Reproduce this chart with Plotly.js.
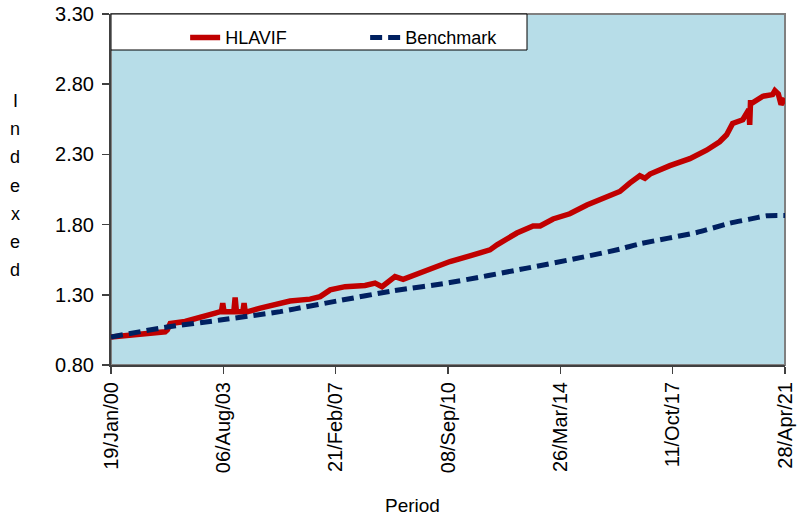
<!DOCTYPE html>
<html>
<head>
<meta charset="utf-8">
<script src="https://cdn.plot.ly/plotly-3.0.1.min.js"></script>
<style>html,body{margin:0;padding:0;background:#fff;}#chart{width:805px;height:518px;}</style>
</head>
<body>
<div id="chart"></div>
<script>
// HLAVIF series (indexed)
const fundDates = ['2000-01-19','2000-12-20','2001-10-05','2001-10-30','2001-12-01','2002-05-22','2002-11-14','2003-05-05','2003-07-01','2003-07-15','2003-07-30','2003-08-14','2003-11-05','2003-12-05','2003-12-20','2004-01-04','2004-03-01','2004-03-18','2004-04-01','2004-04-15','2004-10-05','2005-05-22','2005-09-13','2006-05-01','2006-08-26','2006-12-20','2007-06-10','2008-01-26','2008-05-20','2008-08-08','2009-01-05','2009-04-09','2009-10-20','2010-02-14','2010-10-01','2011-05-18','2012-01-05','2012-03-26','2012-11-10','2013-05-16','2013-08-05','2014-01-01','2014-07-13','2015-01-26','2015-07-27','2016-02-10','2016-06-03','2016-09-27','2016-11-25','2017-01-23','2017-09-09','2018-04-27','2018-11-06','2019-04-05','2019-06-25','2019-09-02','2019-12-28','2020-02-24','2020-03-08','2020-03-17','2020-03-26','2020-04-19','2020-08-15','2020-12-06','2021-01-01','2021-02-10','2021-03-14','2021-04-28'];
const fundValues = [1.00,1.02,1.037,1.05,1.095,1.11,1.145,1.17,1.18,1.18,1.24,1.18,1.18,1.18,1.28,1.18,1.18,1.18,1.24,1.175,1.205,1.24,1.256,1.269,1.287,1.335,1.358,1.366,1.383,1.358,1.43,1.41,1.456,1.485,1.537,1.577,1.62,1.656,1.74,1.79,1.79,1.84,1.877,1.94,1.99,2.036,2.096,2.148,2.13,2.16,2.22,2.27,2.33,2.39,2.44,2.52,2.547,2.607,2.62,2.51,2.667,2.667,2.714,2.726,2.754,2.73,2.655,2.70];

// Benchmark series (indexed)
const benchDates = ['2000-01-19','2001-10-27','2003-07-01','2005-05-22','2005-11-10','2007-03-10','2008-12-14','2010-10-01','2013-03-07','2014-12-10','2016-02-10','2016-09-27','2018-07-16','2019-07-31','2020-03-17','2020-10-01','2021-04-28'];
const benchValues = [1.00,1.07,1.12,1.18,1.20,1.256,1.328,1.387,1.49,1.568,1.625,1.663,1.744,1.81,1.839,1.863,1.865];

// Axis ticks
const xTickVals = ['2000-01-19','2003-08-06','2007-02-21','2010-09-08','2014-03-26','2017-10-11','2021-04-28'];
const xTickText = ['19/Jan/00','06/Aug/03','21/Feb/07','08/Sep/10','26/Mar/14','11/Oct/17','28/Apr/21'];
const yTickVals = [0.8,1.3,1.8,2.3,2.8,3.3];

const seriesNames = ['HLAVIF','Benchmark'];
const yTitleLetters = ['I','n','d','e','x','e','d'];

const FONT = '"Liberation Sans", Arial, sans-serif';

const traces = [
  {x: fundDates, y: fundValues, type: 'scatter', mode: 'lines', name: seriesNames[0],
   line: {color: '#C00000', width: 5.5}},
  {x: benchDates, y: benchValues, type: 'scatter', mode: 'lines', name: seriesNames[1],
   line: {color: '#002060', width: 5, dash: '12px,6px', shape: 'spline', smoothing: 0.6}}
];

const annotations = yTitleLetters.map((ch, i) => ({
  text: ch, xref: 'paper', yref: 'paper', x: -0.142, y: (365 - (101 + i * 28.2)) / 351,
  xanchor: 'center', yanchor: 'middle', showarrow: false,
  font: {family: FONT, size: 18, color: '#000'}
}));
annotations.push({
  text: 'Period', xref: 'paper', yref: 'paper', x: (412 - 111) / 674, y: (365 - 505) / 351,
  xanchor: 'center', yanchor: 'middle', showarrow: false,
  font: {family: FONT, size: 19, color: '#000'}
});

const layout = {
  width: 805, height: 518,
  margin: {l: 111, r: 20, t: 14, b: 153},
  paper_bgcolor: '#FFFFFF',
  plot_bgcolor: '#B7DDE8',
  font: {family: FONT, size: 19, color: '#000'},
  showlegend: true,
  legend: {
    orientation: 'h', x: 0.11, y: 0.985, xanchor: 'left', yanchor: 'top',
    bgcolor: 'rgba(0,0,0,0)', borderwidth: 0,
    font: {family: FONT, size: 18, color: '#000'},
    entrywidth: 135, entrywidthmode: 'pixels', traceorder: 'normal'
  },
  xaxis: {
    type: 'date', range: ['2000-01-19', '2021-04-28'],
    tickmode: 'array', tickvals: xTickVals, ticktext: xTickText,
    tickangle: -90, ticks: 'outside', ticklen: 7, tickwidth: 1.5, tickcolor: '#404040',
    showline: true, linecolor: '#404040', linewidth: 2,
    showgrid: false, zeroline: false, automargin: false,
    tickfont: {family: FONT, size: 20, color: '#000'}
  },
  yaxis: {
    range: [0.8, 3.3], tickmode: 'array', tickvals: yTickVals, tickformat: '.2f',
    ticks: 'outside', ticklen: 7, tickwidth: 1.5, tickcolor: '#404040',
    showline: true, linecolor: '#404040', linewidth: 2,
    showgrid: false, zeroline: false, automargin: false, ticklabelstandoff: 4,
    tickfont: {family: FONT, size: 20, color: '#000'}
  },
  shapes: [
    {type: 'rect', xref: 'paper', yref: 'paper', x0: 0, x1: 1, y0: 0, y1: 1,
     line: {color: '#808080', width: 2}, fillcolor: 'rgba(0,0,0,0)', layer: 'below'},
    {type: 'rect', xref: 'paper', yref: 'paper', x0: 0, x1: (527 - 111) / 674, y0: (365 - 50) / 351, y1: 1,
     line: {color: '#000000', width: 1}, fillcolor: '#FFFFFF', layer: 'below'}
  ],
  annotations: annotations
};

Plotly.newPlot('chart', traces, layout, {displayModeBar: false, staticPlot: true});
</script>
</body>
</html>
